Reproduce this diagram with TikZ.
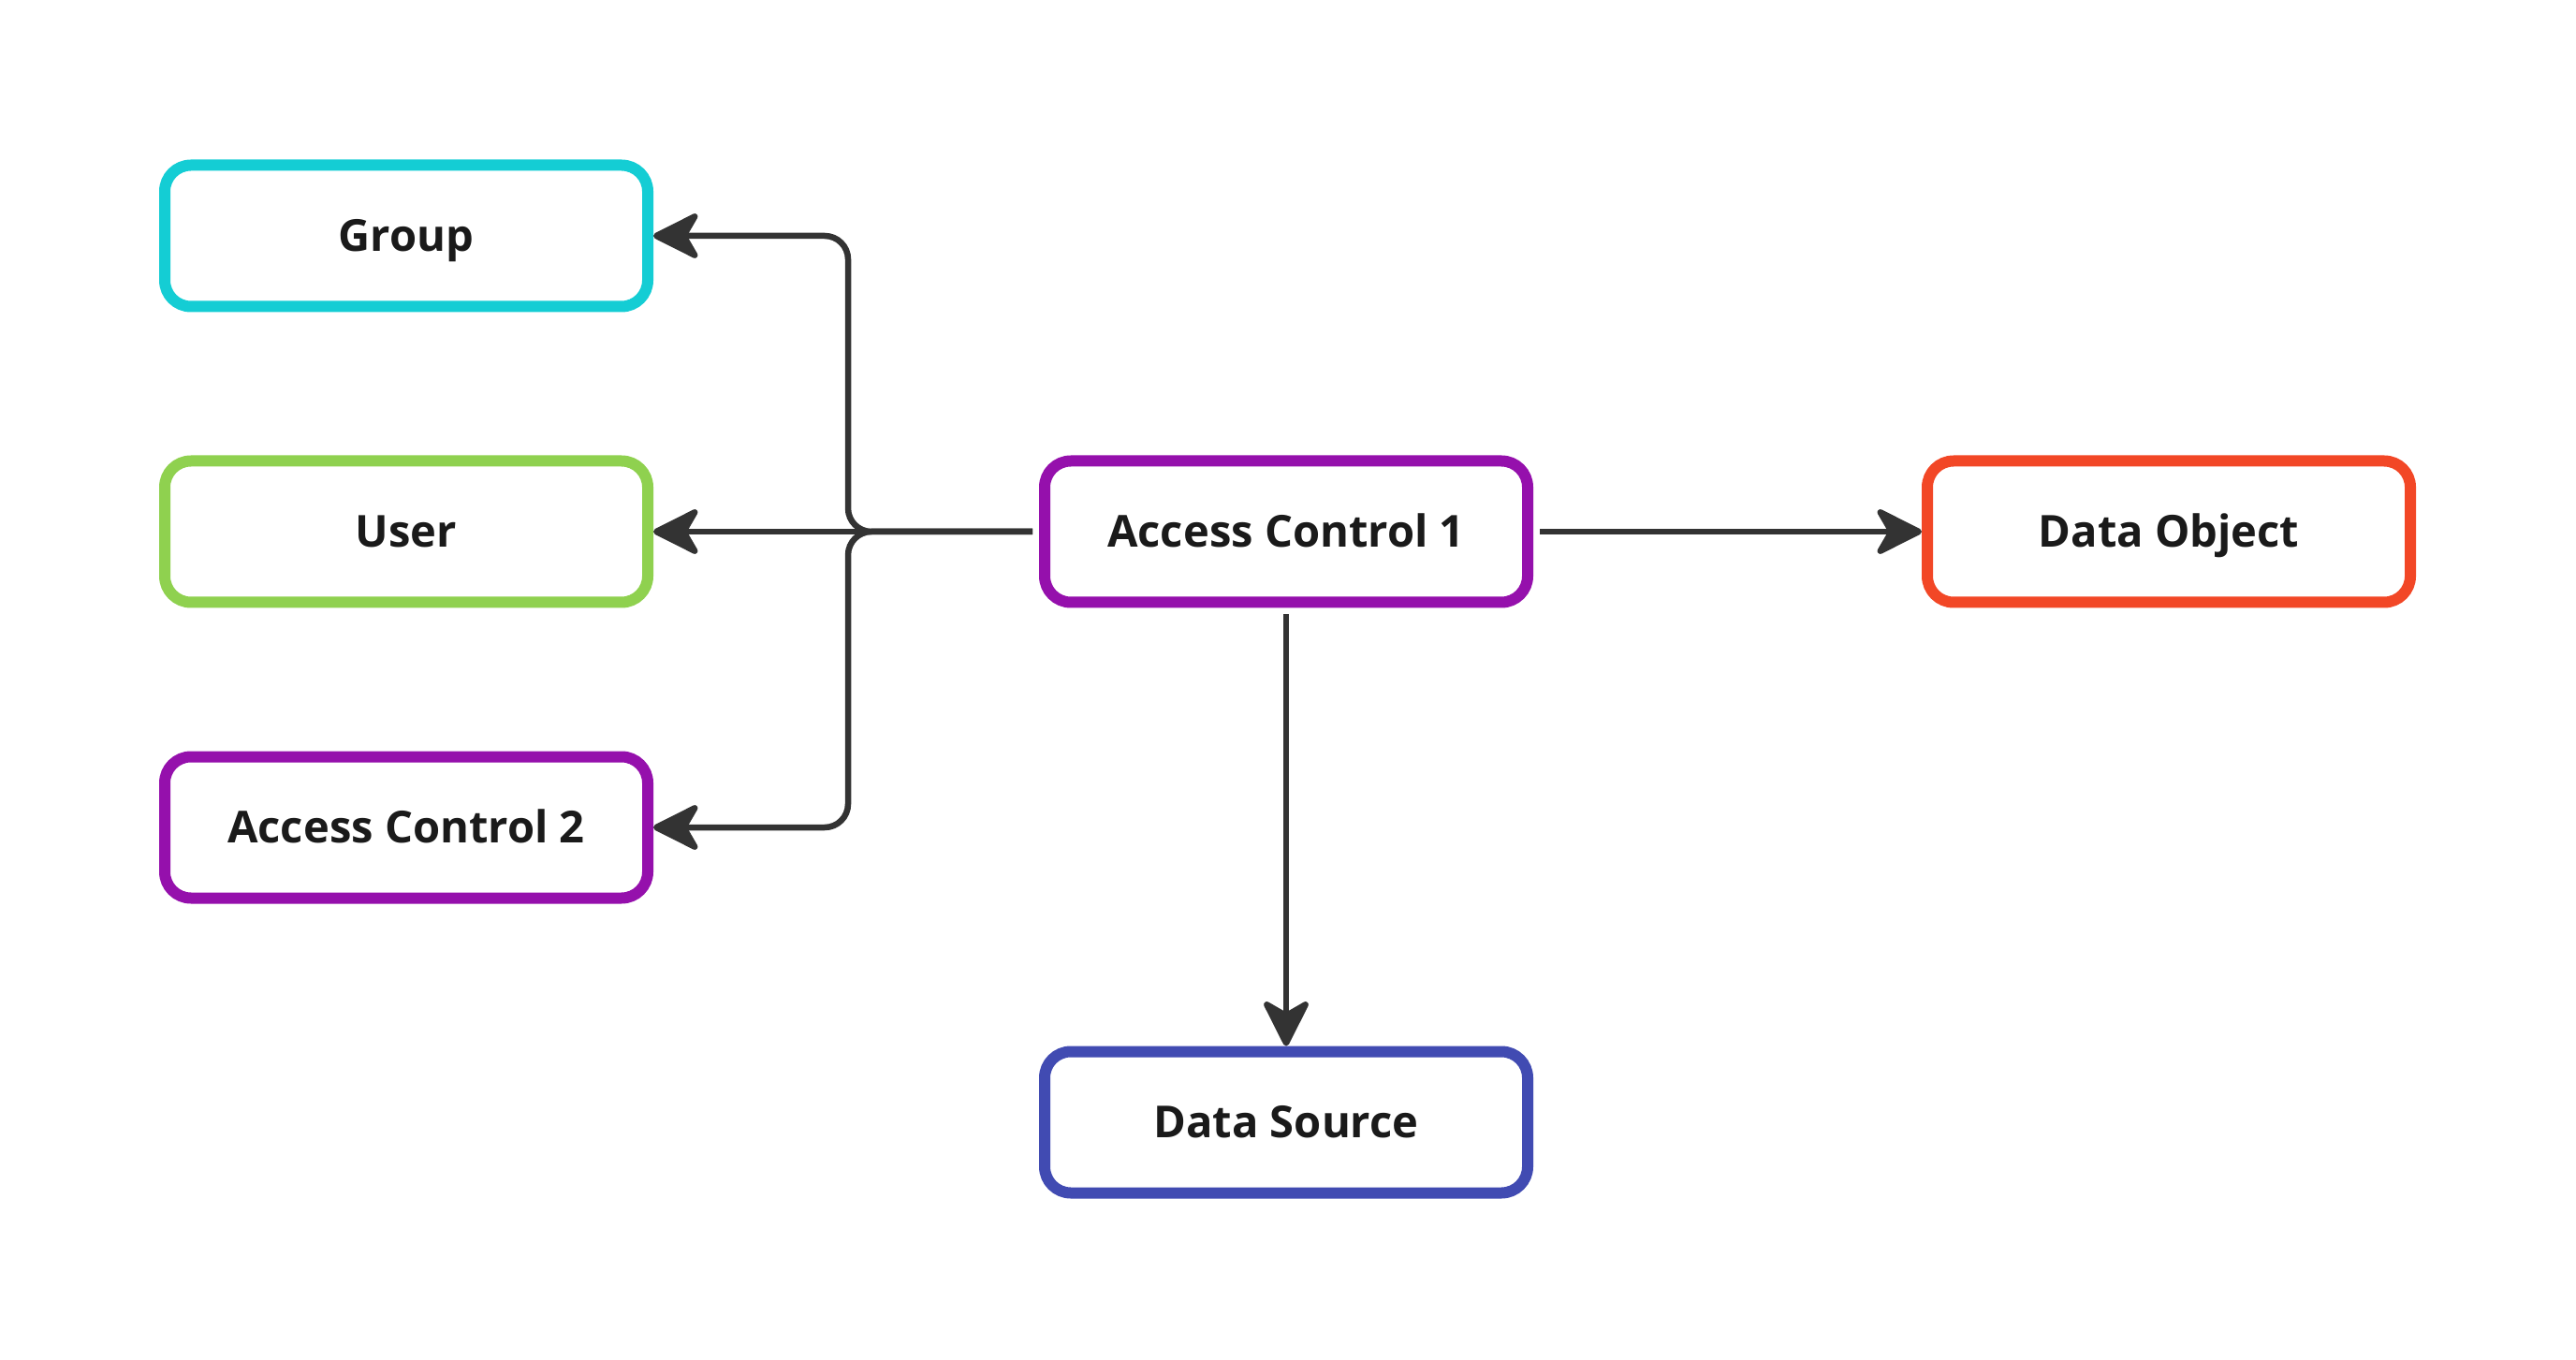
\documentclass[tikz,border=0pt]{standalone}
\usepackage{fontspec}
\setmainfont{Open Sans}
\usetikzlibrary{arrows.meta,positioning}
\definecolor{linegray}{HTML}{333333}
\definecolor{textblack}{HTML}{1A1A1A}
\definecolor{groupcyan}{HTML}{14CDD4}
\definecolor{usergreen}{HTML}{8FD14F}
\definecolor{acpurple}{HTML}{9510AC}
\definecolor{objred}{HTML}{F24726}
\definecolor{srcblue}{HTML}{414BB2}
\tikzset{
  box/.style  = {draw, rounded corners=0.28cm, line width=0.12cm, fill=white,
                 minimum width=5.16cm, minimum height=1.51cm, text=textblack,
                 text height=9.6pt, text depth=0pt,
                 font=\bfseries\fontsize{13.4}{16}\selectfont},
  link/.style = {draw=linegray, line width=0.065cm, shorten <=0.07cm,
                 -{Stealth[length=0.56cm,width=0.56cm,inset=0.16cm,round]}}
}

\begin{document}
\begin{tikzpicture}[node distance=3.16cm, on grid]
  \useasboundingbox (0,0) rectangle (27.52,-14.53);

  % left column
  \node[box, draw=groupcyan] (group) at (4.34,-2.52) {Group};
  \node[box, draw=usergreen, below=of group] (user) {User};
  \node[box, draw=acpurple, below=of user] (ac2) {Access Control 2};

  % centre and right
  \node[box, draw=acpurple, right=9.4cm of user] (ac1) {Access Control 1};
  \node[box, draw=objred, right=9.43cm of ac1] (dobj) {Data Object};
  \node[box, draw=srcblue, below=6.31cm of ac1] (dsrc) {Data Source};

  % split point of the left connectors
  \coordinate (split) at (9.06,-5.68);

  \draw[link, rounded corners=0.25cm] (ac1.west) -- (split) |- (group.east);
  \draw[link] (ac1.west) -- (user.east);
  \draw[link, rounded corners=0.25cm] (ac1.west) -- (split) |- (ac2.east);

  \draw[link] (ac1.east) -- (dobj.west);
  \draw[link] (ac1.south) -- (dsrc.north);
\end{tikzpicture}
\end{document}
